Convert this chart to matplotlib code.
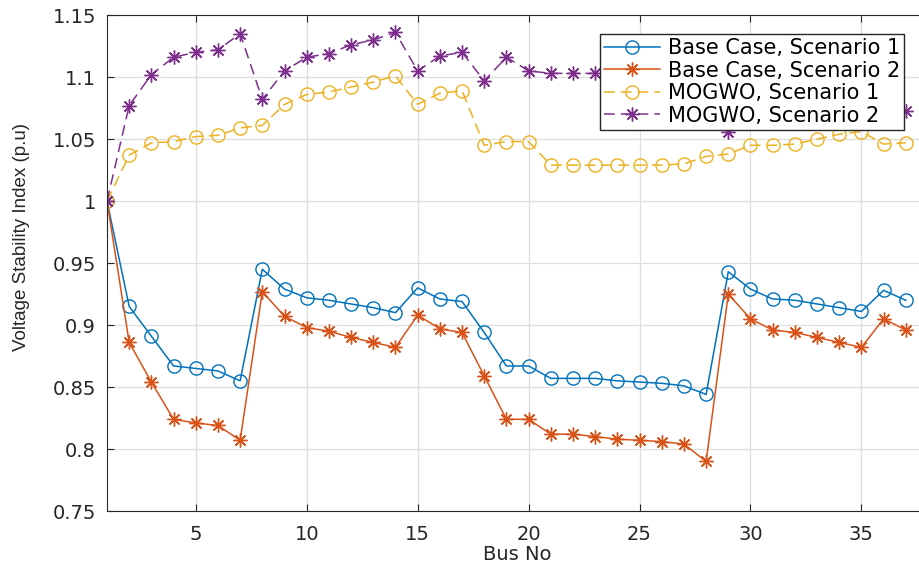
import numpy as np
import matplotlib
matplotlib.use("Agg")
import matplotlib.pyplot as plt
from matplotlib.ticker import MultipleLocator, FuncFormatter

plt.rcParams["font.family"] = ["DejaVu Sans"]

bus = np.arange(1, 38)

base_s1 = [1.000, 0.915, 0.891, 0.867, 0.865, 0.863, 0.855, 0.945, 0.929, 0.922,
           0.920, 0.917, 0.914, 0.910, 0.930, 0.921, 0.919, 0.894, 0.867, 0.867,
           0.857, 0.857, 0.857, 0.855, 0.854, 0.853, 0.851, 0.844, 0.943, 0.929,
           0.921, 0.920, 0.917, 0.914, 0.911, 0.928, 0.920]

base_s2 = [1.000, 0.886, 0.854, 0.824, 0.821, 0.819, 0.807, 0.927, 0.907, 0.898,
           0.895, 0.890, 0.886, 0.882, 0.908, 0.897, 0.894, 0.859, 0.824, 0.824,
           0.812, 0.812, 0.810, 0.808, 0.807, 0.806, 0.804, 0.790, 0.925, 0.905,
           0.896, 0.894, 0.890, 0.886, 0.882, 0.905, 0.896]

mogwo_s1 = [1.000, 1.037, 1.047, 1.048, 1.052, 1.053, 1.059, 1.061, 1.078, 1.086,
            1.088, 1.092, 1.096, 1.101, 1.078, 1.087, 1.089, 1.045, 1.048, 1.048,
            1.029, 1.029, 1.029, 1.029, 1.029, 1.029, 1.030, 1.036, 1.038, 1.045,
            1.045, 1.046, 1.050, 1.054, 1.056, 1.046, 1.047]

mogwo_s2 = [1.000, 1.077, 1.102, 1.116, 1.120, 1.122, 1.135, 1.082, 1.105, 1.116,
            1.119, 1.126, 1.130, 1.136, 1.105, 1.117, 1.120, 1.097, 1.116, 1.105,
            1.103, 1.103, 1.103, 1.102, 1.102, 1.101, 1.101, 1.100, 1.056, 1.068,
            1.070, 1.071, 1.073, 1.076, 1.079, 1.070, 1.073]

labels = ["Base Case, Scenario 1", "Base Case, Scenario 2",
          "MOGWO, Scenario 1", "MOGWO, Scenario 2"]

fig = plt.figure(figsize=(9.2, 5.72), dpi=100)
ax = fig.add_axes([0.1163, 0.1066, 0.8924, 0.867])

star = (8, 2, 0)
ax.plot(bus, base_s1, color="#0072BD", marker="o", mfc="none", ms=9.5, lw=1.1,
        label=labels[0])
ax.plot(bus, base_s2, color="#D95319", marker=star, ms=10, lw=1.1,
        label=labels[1])
ax.plot(bus, mogwo_s1, color="#EDB120", marker="o", mfc="none", ms=9.5, lw=1.1,
        ls=(0, (7, 4)), label=labels[2])
ax.plot(bus, mogwo_s2, color="#7E2F8E", marker=star, ms=10, lw=1.1,
        ls=(0, (7, 4)), label=labels[3])

ax.set_xlim(1, 38)
ax.set_ylim(0.75, 1.15)
ax.xaxis.set_major_locator(MultipleLocator(5))
ax.yaxis.set_major_locator(MultipleLocator(0.05))
ax.yaxis.set_major_formatter(FuncFormatter(lambda v, p: f"{v:.2f}".rstrip("0").rstrip(".")))
ax.grid(True, color="#dedede", lw=0.9)
ax.set_axisbelow(True)
ax.tick_params(direction="in", labelsize=14, colors="#262626", length=5,
               top=True, right=True)
ax.tick_params(axis="y", pad=8)
ax.tick_params(axis="x", pad=10)
for s in ax.spines.values():
    s.set_color("#262626")

ax.set_xlabel("Bus No", fontsize=14, color="#262626", labelpad=1)
ax.set_ylabel("Voltage Stability Index (p.u)", fontsize=13.5, color="#262626",
              family=["Liberation Sans", "DejaVu Sans"])
ax.yaxis.set_label_coords(-0.0935, 0.552)

leg = ax.legend(loc="upper right", bbox_to_anchor=(904 / 920, 1 - 34 / 572),
                bbox_transform=fig.transFigure, borderaxespad=0,
                fontsize=15, fancybox=False, framealpha=1, edgecolor="#262626",
                borderpad=0.2, labelspacing=0.12, handlelength=2.7,
                handletextpad=0.35)
leg.get_frame().set_linewidth(1.0)

fig.savefig("out.png", dpi=100)
